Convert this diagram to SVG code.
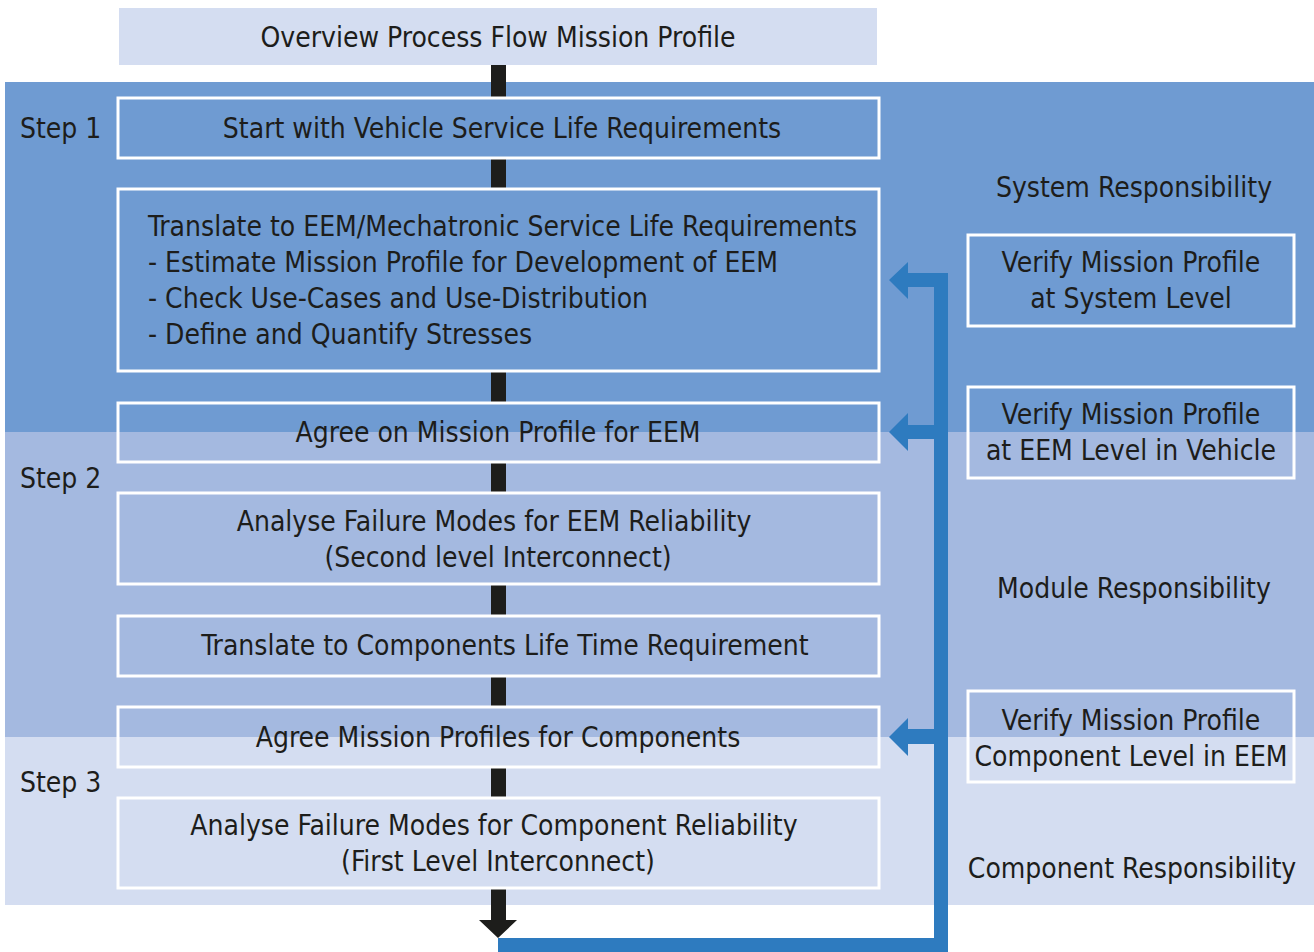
<svg xmlns="http://www.w3.org/2000/svg" width="1314" height="952" viewBox="0 0 1314 952">
<style>
text{font-family:"DejaVu Sans Condensed","DejaVu Sans",sans-serif;font-size:28px;fill:#1d1d1b}
.c{text-anchor:middle}
.box{fill:none;stroke:#fff;stroke-width:3}
.blk{fill:#1d1d1b}
.blu{fill:#2e7bbf}
</style>
<rect width="1314" height="952" fill="#fff"/>
<g id="bands">
<rect x="5" y="82" width="1309" height="350" fill="#6f9bd2"/>
<rect x="5" y="432" width="1309" height="305" fill="#a4b9e0"/>
<rect x="5" y="737" width="1309" height="168" fill="#d4ddf1"/>
<text x="20" y="138">Step 1</text>
<text x="20" y="488">Step 2</text>
<text x="20" y="792">Step 3</text>
<text class="c" x="1134" y="197">System Responsibility</text>
<text class="c" x="1134" y="598">Module Responsibility</text>
<text class="c" x="1132" y="878">Component Responsibility</text>
</g>
<g id="connectors">
<rect class="blk" x="491" y="65" width="15" height="840"/>
<rect fill="#fff" x="491" y="905" width="15" height="0"/>
<polygon class="blk" points="491,888 506,888 506,920 517,920 498,938 479,920 491,920"/>
<polygon class="blu" points="498,938 934,938 934,287 908,287 908,299 889,280 908,262 908,273 948,273 948,952 498,952"/>
<polygon class="blu" points="934,425 908,425 908,413 889,432 908,451 908,439 934,439"/>
<polygon class="blu" points="934,729 908,729 908,718 889,737 908,756 908,744 934,744"/>
</g>
<g id="title">
<rect x="119" y="8" width="758" height="57" fill="#d4ddf1"/>
<text class="c" x="498" y="47">Overview Process Flow Mission Profile</text>
</g>
<g id="n1">
<rect class="box" x="118" y="98" width="761" height="60" fill="#6f9bd2" style="fill:#6f9bd2"/>
<text class="c" x="502" y="138">Start with Vehicle Service Life Requirements</text>
</g>
<g id="n2">
<rect class="box" x="118" y="189" width="761" height="182" style="fill:#6f9bd2"/>
<text x="148" y="236">Translate to EEM/Mechatronic Service Life Requirements</text>
<text x="148" y="272">- Estimate Mission Profile for Development of EEM</text>
<text x="148" y="308">- Check Use-Cases and Use-Distribution</text>
<text x="148" y="344">- Define and Quantify Stresses</text>
</g>
<g id="n3">
<rect x="118" y="403" width="761" height="29" fill="#6f9bd2"/>
<rect x="118" y="432" width="761" height="30" fill="#a4b9e0"/>
<rect class="box" x="118" y="403" width="761" height="59"/>
<text class="c" x="498" y="442">Agree on Mission Profile for EEM</text>
</g>
<g id="n4">
<rect class="box" x="118" y="493" width="761" height="91" style="fill:#a4b9e0"/>
<text class="c" x="494" y="531">Analyse Failure Modes for EEM Reliability</text>
<text class="c" x="498" y="567">(Second level Interconnect)</text>
</g>
<g id="n5">
<rect class="box" x="118" y="616" width="761" height="60" style="fill:#a4b9e0"/>
<text class="c" x="505" y="655">Translate to Components Life Time Requirement</text>
</g>
<g id="n6">
<rect x="118" y="707" width="761" height="30" fill="#a4b9e0"/>
<rect x="118" y="737" width="761" height="30" fill="#d4ddf1"/>
<rect class="box" x="118" y="707" width="761" height="60"/>
<text class="c" x="498" y="747">Agree Mission Profiles for Components</text>
</g>
<g id="n7">
<rect class="box" x="118" y="798" width="761" height="90" style="fill:#d4ddf1"/>
<text class="c" x="494" y="835">Analyse Failure Modes for Component Reliability</text>
<text class="c" x="498" y="871">(First Level Interconnect)</text>
</g>
<g id="v1">
<rect class="box" x="968" y="235" width="326" height="91"/>
<text class="c" x="1131" y="272">Verify Mission Profile</text>
<text class="c" x="1131" y="308">at System Level</text>
</g>
<g id="v2">
<rect class="box" x="968" y="387" width="326" height="91"/>
<text class="c" x="1131" y="424">Verify Mission Profile</text>
<text class="c" x="1131" y="460">at EEM Level in Vehicle</text>
</g>
<g id="v3">
<rect class="box" x="968" y="691" width="326" height="91"/>
<text class="c" x="1131" y="730">Verify Mission Profile</text>
<text class="c" x="1131" y="766">Component Level in EEM</text>
</g>
</svg>
